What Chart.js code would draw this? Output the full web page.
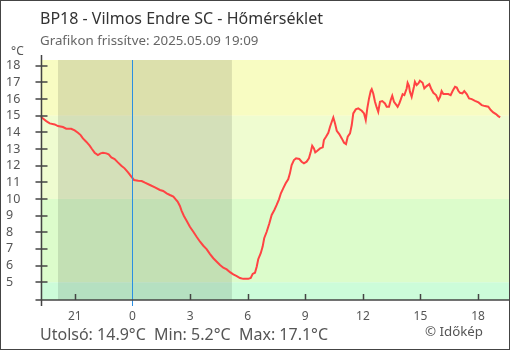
<!DOCTYPE html>
<html>
<head>
<meta charset="utf-8">
<script src="https://cdn.jsdelivr.net/npm/chart.js@4"></script>
<style>
  html, body { margin: 0; padding: 0; background: #fff; }
  #wrap { width: 510px; height: 350px; position: relative; }
</style>
</head>
<body>
<div id="wrap"><canvas id="temp-chart" width="510" height="350"></canvas></div>
<script>
// hours relative to midnight (negative = previous evening)
const hours = [
  -4.79, -4.66, -4.49, -4.31, -4.05, -3.88, -3.62, -3.45, -3.19, -3.01,
  -2.84, -2.70, -2.58, -2.41, -2.23, -2.11, -1.97, -1.80, -1.66, -1.54,
  -1.36, -1.24, -1.10, -0.93, -0.76, -0.58, -0.41, -0.23, -0.06, 0.08,
  0.30, 0.48, 0.65, 0.91, 1.17, 1.43, 1.60, 1.78, 1.95, 2.13,
  2.25, 2.35, 2.47, 2.56, 2.68, 2.82, 2.99, 3.17, 3.34, 3.52,
  3.69, 3.86, 4.04, 4.21, 4.39, 4.56, 4.73, 4.91, 5.08, 5.25,
  5.43, 5.60, 5.77, 6.03, 6.16, 6.26, 6.38, 6.47, 6.55, 6.68,
  6.78, 6.86, 6.99, 7.13, 7.25, 7.39, 7.51, 7.63, 7.73, 7.85,
  7.98, 8.11, 8.20, 8.29, 8.41, 8.52, 8.69, 8.81, 8.93, 9.07,
  9.19, 9.28, 9.36, 9.45, 9.52, 9.63, 9.77, 9.91, 9.97, 10.08,
  10.20, 10.29, 10.38, 10.46, 10.55, 10.64, 10.77, 10.90, 11.02, 11.12,
  11.21, 11.33, 11.42, 11.50, 11.63, 11.76, 11.94, 12.06, 12.15, 12.23,
  12.32, 12.41, 12.46, 12.54, 12.63, 12.72, 12.80, 12.89, 13.01, 13.15,
  13.24, 13.36, 13.45, 13.53, 13.62, 13.72, 13.81, 13.90, 13.98, 14.07,
  14.16, 14.28, 14.33, 14.40, 14.45, 14.54, 14.66, 14.71, 14.80, 14.89,
  14.97, 15.11, 15.20, 15.32, 15.46, 15.55, 15.67, 15.81, 15.93, 16.02,
  16.10, 16.19, 16.33, 16.45, 16.57, 16.68, 16.80, 16.89, 16.97, 17.06,
  17.18, 17.28, 17.41, 17.53, 17.67, 17.84, 18.02, 18.19, 18.36, 18.53,
  18.66, 18.79, 18.93, 19.05, 19.15
];
const temps = [
  14.95, 14.84, 14.68, 14.54, 14.48, 14.38, 14.32, 14.22, 14.22, 14.12,
  13.98, 13.84, 13.64, 13.44, 13.20, 13.00, 12.78, 12.64, 12.74, 12.78,
  12.74, 12.68, 12.50, 12.40, 12.20, 12.00, 11.84, 11.60, 11.34, 11.14,
  11.10, 11.08, 10.98, 10.84, 10.70, 10.54, 10.48, 10.34, 10.24, 10.14,
  9.98, 9.84, 9.58, 9.29, 8.98, 8.69, 8.33, 8.03, 7.73, 7.43,
  7.19, 6.99, 6.69, 6.44, 6.23, 6.03, 5.87, 5.77, 5.60, 5.47,
  5.37, 5.25, 5.20, 5.20, 5.25, 5.50, 5.57, 5.93, 6.38, 6.74,
  7.14, 7.64, 8.03, 8.54, 9.04, 9.34, 9.64, 9.98, 10.34, 10.64,
  10.94, 11.18, 11.54, 12.04, 12.34, 12.44, 12.40, 12.24, 12.14, 12.24,
  12.44, 12.80, 13.20, 13.04, 12.80, 12.90, 13.04, 13.10, 13.54, 13.74,
  13.98, 14.34, 14.64, 14.90, 14.54, 14.10, 13.90, 13.64, 13.38, 13.30,
  13.74, 13.94, 14.44, 15.14, 15.38, 15.44, 15.30, 15.14, 14.74, 15.44,
  16.04, 16.50, 16.60, 16.34, 15.84, 15.50, 15.24, 15.84, 15.88, 15.74,
  15.54, 15.54, 15.94, 16.20, 15.84, 15.68, 15.54, 15.74, 16.00, 16.30,
  16.24, 16.64, 16.98, 16.80, 16.44, 16.14, 16.74, 17.04, 16.84, 16.94,
  17.10, 16.98, 16.64, 16.78, 16.90, 16.64, 16.38, 16.24, 15.94, 16.14,
  16.48, 16.30, 16.30, 16.30, 16.24, 16.50, 16.74, 16.70, 16.50, 16.38,
  16.34, 16.48, 16.30, 16.04, 16.00, 15.90, 15.80, 15.64, 15.58, 15.54,
  15.34, 15.20, 15.10, 14.98, 14.90
];

const xTicks = [-3, 0, 3, 6, 9, 12, 15, 18];
const yTicks = [5, 6, 7, 8, 9, 10, 11, 12, 13, 14, 15, 16, 17, 18];
const bandEdges = [5, 10, 15];
const bandColors = ['#ccfcd9', '#dcfccb', '#effcd0', '#f8fcc2'];
const nightStart = -3.88;   // 20:07
const nightEnd = 5.18;      // 05:11
const lastTemp = 14.9, minTemp = 5.2, maxTemp = 17.1;

const FONT = "'Noto Sans', 'Open Sans', sans-serif";

const decorPlugin = {
  id: 'decor',
  beforeDatasetsDraw(chart) {
    const { ctx, chartArea: a, scales: { x, y } } = chart;
    ctx.save();
    // temperature bands
    const edges = [y.min, ...bandEdges, y.max];
    for (let i = 0; i < bandColors.length; i++) {
      const top = y.getPixelForValue(edges[i + 1]);
      const bot = y.getPixelForValue(edges[i]);
      ctx.fillStyle = bandColors[i];
      ctx.fillRect(a.left, top, a.right - a.left, bot - top);
    }
    // night
    const nx1 = x.getPixelForValue(nightStart);
    const nx2 = x.getPixelForValue(nightEnd);
    ctx.fillStyle = 'rgba(0,0,0,0.11)';
    ctx.fillRect(nx1, a.top, nx2 - nx1, a.bottom - a.top);
    ctx.restore();
  },
  afterDraw(chart) {
    const { ctx, chartArea: a, scales: { x, y } } = chart;
    ctx.save();
    // midnight line
    const mx = Math.round(x.getPixelForValue(0)) + 0.5;
    ctx.strokeStyle = '#2b8fe3';
    ctx.lineWidth = 1;
    ctx.beginPath();
    ctx.moveTo(mx, a.top);
    ctx.lineTo(mx, a.bottom + 6);
    ctx.stroke();

    // axes
    ctx.strokeStyle = '#444';
    ctx.lineWidth = 1.5;
    const ax = Math.round(a.left) + 0.5;
    const ay = Math.round(a.bottom);
    ctx.beginPath();
    ctx.moveTo(ax, a.top - 5);
    ctx.lineTo(ax, ay + 6);
    ctx.moveTo(ax - 6, ay);
    ctx.lineTo(a.right, ay);
    yTicks.forEach(v => {
      const py = Math.round(y.getPixelForValue(v));
      ctx.moveTo(ax - 6, py);
      ctx.lineTo(ax + 6, py);
    });
    xTicks.forEach(v => {
      const px = Math.round(x.getPixelForValue(v)) + 0.5;
      if (v === 0) return;
      ctx.moveTo(px, ay - 6);
      ctx.lineTo(px, ay);
    });
    ctx.stroke();

    // texts
    ctx.textBaseline = 'alphabetic';
    ctx.textAlign = 'left';
    ctx.fillStyle = '#333';
    ctx.font = '16px ' + FONT;
    ctx.fillText('BP18 - Vilmos Endre SC - Hőmérséklet', 40, 24);
    ctx.fillStyle = '#666';
    ctx.font = '13.3px ' + FONT;
    ctx.fillText('Grafikon frissítve: 2025.05.09 19:09', 40, 45);
    ctx.fillStyle = '#555';
    ctx.font = '12px ' + FONT;
    ctx.fillText('°C', 11, 55);
    ctx.font = '16px ' + FONT;
    ctx.fillText('Utolsó: ' + lastTemp.toFixed(1) + '°C  Min: ' + minTemp.toFixed(1) +
      '°C  Max: ' + maxTemp.toFixed(1) + '°C', 40, 340);
    ctx.font = '13.3px ' + FONT;
    ctx.fillText('© Időkép', 425, 336);

    // frame
    ctx.strokeStyle = '#444';
    ctx.lineWidth = 1;
    ctx.strokeRect(0.5, 0.5, chart.width - 1, chart.height - 1);
    ctx.restore();
  }
};

const ctx = document.getElementById('temp-chart').getContext('2d');
new Chart(ctx, {
  type: 'line',
  data: {
    datasets: [{
      data: hours.map((h, i) => ({ x: h, y: temps[i] })),
      borderColor: '#ff4343',
      borderWidth: 2,
      pointRadius: 0,
      tension: 0,
      fill: false
    }]
  },
  options: {
    responsive: false,
    animation: false,
    layout: { padding: { top: 60, right: 1, left: 6, bottom: 0 } },
    plugins: { legend: { display: false }, tooltip: { enabled: false } },
    scales: {
      x: {
        type: 'linear',
        min: -4.79,
        max: 19.61,
        grid: { display: false },
        border: { display: false },
        afterBuildTicks: s => { s.ticks = xTicks.map(v => ({ value: v })); },
        afterFit: s => { s.height = 50; },
        ticks: {
          padding: 1,
          maxRotation: 0,
          color: '#555',
          font: { family: FONT, size: 12 },
          callback: v => String(v < 0 ? v + 24 : v)
        }
      },
      y: {
        min: 3.93,
        max: 18.35,
        grid: { display: false },
        border: { display: false },
        afterBuildTicks: s => { s.ticks = yTicks.map(v => ({ value: v })); },
        afterFit: s => { s.width = 34.5; },
        ticks: {
          crossAlign: 'far',
          color: '#555',
          font: { family: FONT, size: 12.5 },
          callback: v => String(v)
        }
      }
    }
  },
  plugins: [decorPlugin]
});
</script>
</body>
</html>
